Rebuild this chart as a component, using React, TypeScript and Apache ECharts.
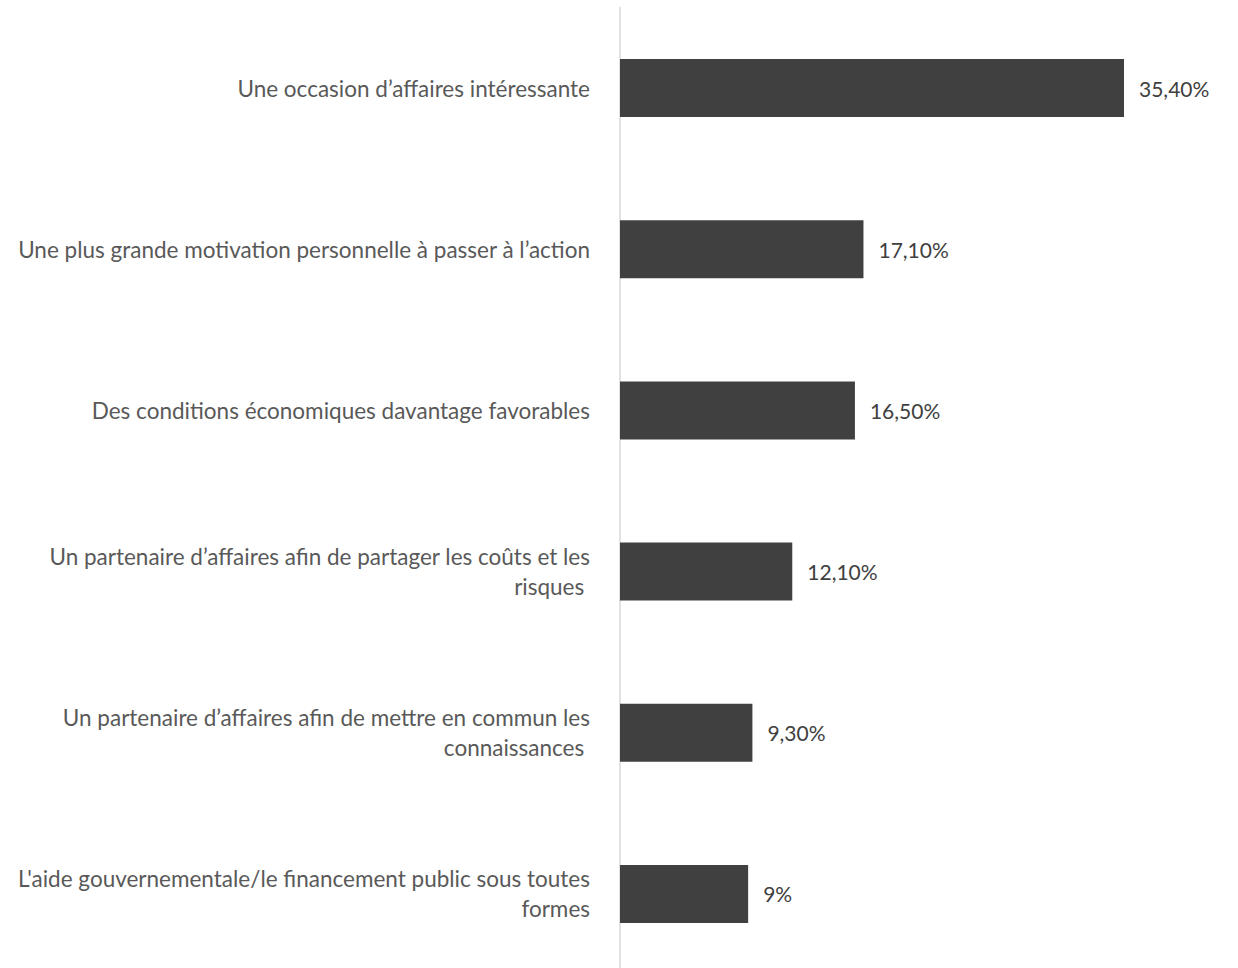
import React, { useEffect, useRef } from "react";
import * as echarts from "echarts";

const categories = [
  "Une occasion d’affaires intéressante",
  "Une plus grande motivation personnelle à passer à l’action",
  "Des conditions économiques davantage favorables",
  "Un partenaire d’affaires afin de partager les coûts et les\nrisques ",
  "Un partenaire d’affaires afin de mettre en commun les\nconnaissances ",
  "L'aide gouvernementale/le financement public sous toutes\nformes",
];
const values = [35.4, 17.1, 16.5, 12.1, 9.3, 9];
const valueLabels = ["35,40%", "17,10%", "16,50%", "12,10%", "9,30%", "9%"];

export default function App() {
  const ref = useRef<HTMLDivElement>(null);
  useEffect(() => {
    document.body.style.margin = "0";
    document.body.style.overflow = "hidden";
    document.documentElement.style.overflow = "hidden";
    const chart = echarts.init(ref.current!, null, { renderer: "svg" });
    const font = "Lato, 'Open Sans', sans-serif";
    chart.setOption({
      animation: false,
      grid: { left: 620, top: 7.5, width: 569.5, height: 967 },
      xAxis: {
        type: "value",
        min: 0,
        max: 40,
        show: false,
      },
      yAxis: {
        type: "category",
        inverse: true,
        data: categories,
        axisLine: { show: true, lineStyle: { color: "#d9d9d9", width: 1.5 } },
        axisTick: { show: false },
        axisLabel: {
          color: "#595959",
          fontSize: 22.5,
          fontFamily: font,
          lineHeight: 30,
          align: "right",
          margin: 30,
        },
      },
      series: [
        {
          type: "bar",
          data: values,
          barCategoryGap: "64%",
          itemStyle: { color: "#404040" },
          label: {
            show: true,
            position: "right",
            distance: 15,
            color: "#404040",
            fontSize: 21,
            fontFamily: font,
            formatter: (p: any) => valueLabels[p.dataIndex],
          },
        },
      ],
    });
    return () => chart.dispose();
  }, []);
  return <div ref={ref} style={{ width: 1238, height: 990 }} />;
}
